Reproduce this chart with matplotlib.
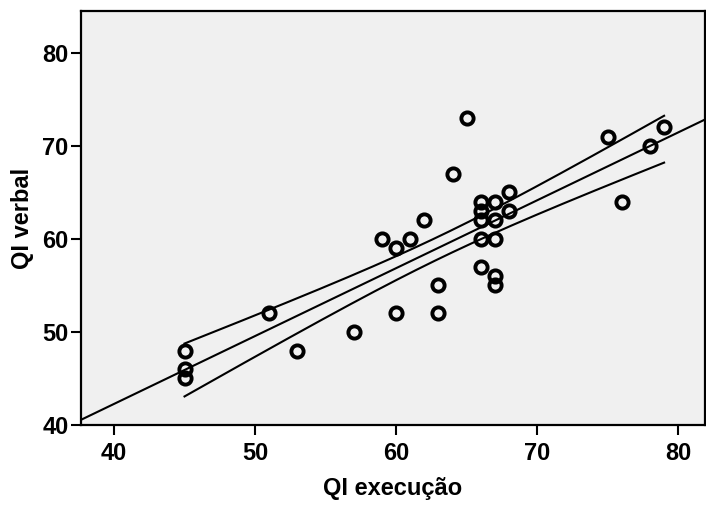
import numpy as np
import matplotlib
matplotlib.use("Agg")
import matplotlib.pyplot as plt

plt.rcParams['font.family'] = ['Liberation Sans', 'DejaVu Sans']

qi_execucao = [45, 45, 45, 51, 53, 57, 59, 60, 60, 61, 62, 63, 63, 64, 65,
               66, 66, 66, 66, 66, 67, 67, 67, 67, 67, 68, 68, 75, 76, 78, 79]
qi_verbal = [48, 46, 45, 52, 48, 50, 60, 59, 52, 60, 62, 55, 52, 67, 73,
             64, 63, 62, 60, 57, 64, 62, 60, 56, 55, 65, 63, 71, 64, 70, 72]

x = np.array(qi_execucao, float)
y = np.array(qi_verbal, float)
n = len(x)
b1, b0 = np.polyfit(x, y, 1)
resid = y - (b0 + b1 * x)
s = np.sqrt(np.sum(resid**2) / (n - 2))
t_mult = 1.55
sxx = np.sum((x - x.mean())**2)

fig = plt.figure(figsize=(7.06, 5.07), dpi=100)
ax = fig.add_axes([81/706, 1-425/507, 624/706, 414/507])
ax.set_facecolor('#f0f0f0')

xlim = (37.66, 81.9)
ylim = (40, 84.5)
xl = np.linspace(xlim[0], xlim[1], 200)
ax.plot(xl, b0 + b1 * xl, color='black', lw=1.5, zorder=2)
xc = np.linspace(x.min(), x.max(), 200)
half = t_mult * s * np.sqrt(1/n + (xc - x.mean())**2 / sxx)
ax.plot(xc, b0 + b1 * xc + half, color='black', lw=1.5, zorder=2)
ax.plot(xc, b0 + b1 * xc - half, color='black', lw=1.5, zorder=2)

ax.plot(x, y, 'o', mfc='none', mec='black', mew=2.8, ms=8.8, zorder=3)

ax.set_xlim(*xlim)
ax.set_ylim(*ylim)
ax.set_xticks([40, 50, 60, 70, 80])
ax.set_yticks([40, 50, 60, 70, 80])
for sp in ax.spines.values():
    sp.set_linewidth(1.6)
ax.tick_params(axis='both', labelsize=17, width=1.5, color='black', length=7)
ax.tick_params(axis='x', pad=5)
ax.tick_params(axis='y', pad=2)
for lab in ax.get_xticklabels() + ax.get_yticklabels():
    lab.set_fontweight('bold')
ax.set_xlabel('QI execução', fontsize=17, fontweight='bold', labelpad=9)
ax.set_ylabel('QI verbal', fontsize=17, fontweight='bold', labelpad=6)

fig.savefig('out.png', dpi=100)
